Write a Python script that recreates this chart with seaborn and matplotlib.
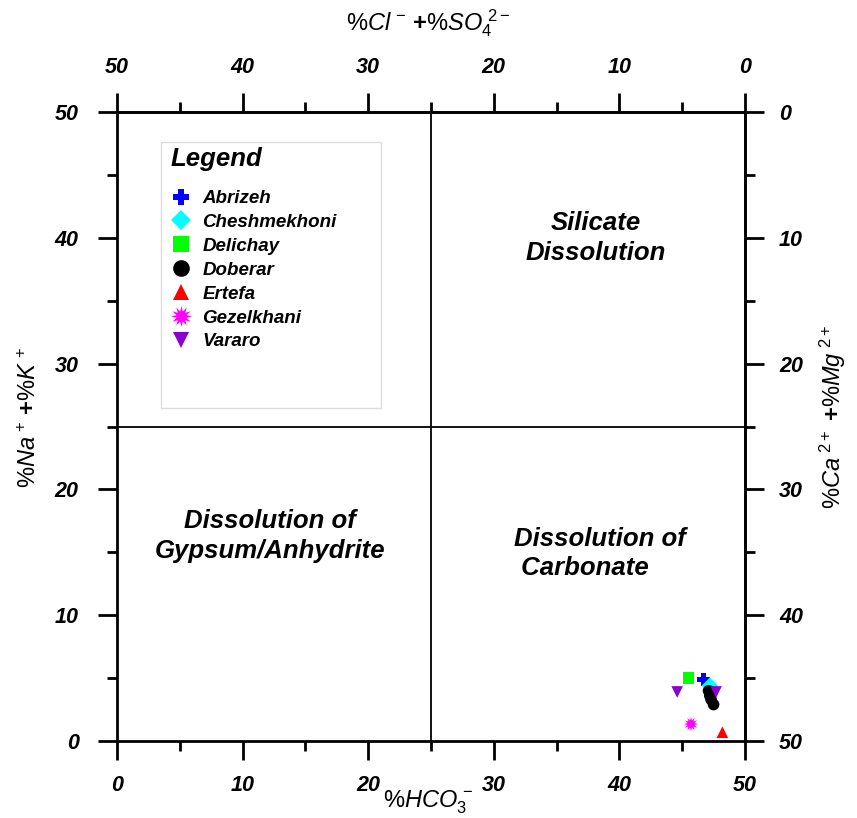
import numpy as np
import pandas as pd
import seaborn as sns
import matplotlib.pyplot as plt
from matplotlib.lines import Line2D
from matplotlib.patches import Rectangle
from matplotlib.ticker import MultipleLocator

# %HCO3 (x) and %Na+K (y) per sample
sites = ['Abrizeh', 'Cheshmekhoni', 'Delichay', 'Doberar', 'Doberar', 'Doberar',
         'Doberar', 'Ertefa', 'Gezelkhani', 'Vararo', 'Vararo']
hco3 = [46.7, 47.2, 45.5, 47.1, 47.2, 47.3, 47.5, 48.2, 45.7, 44.6, 47.7]
na_k = [4.9, 4.4, 5.0, 4.0, 3.6, 3.3, 2.9, 0.7, 1.35, 3.9, 3.9]

site_order = ['Abrizeh', 'Cheshmekhoni', 'Delichay', 'Doberar', 'Ertefa', 'Gezelkhani', 'Vararo']
site_colors = ['#0000FF', '#00FFFF', '#00FF00', '#000000', '#FF0000', '#FF00FF', '#8B00CC']
site_markers = ['P', 'D', 's', 'o', '^', (12, 1, 0), 'v']
tick_vals = [0, 10, 20, 30, 40, 50]

df = pd.DataFrame({'site': sites, 'hco3': hco3, 'na_k': na_k})

sns.set_style('white')
plt.rcParams['font.family'] = ['Liberation Sans', 'DejaVu Sans']
plt.rcParams['text.color'] = 'black'
plt.rcParams['axes.labelcolor'] = 'black'
plt.rcParams['xtick.color'] = 'black'
plt.rcParams['ytick.color'] = 'black'
plt.rcParams['mathtext.fontset'] = 'custom'
plt.rcParams['mathtext.rm'] = 'Liberation Sans'
plt.rcParams['mathtext.it'] = 'Liberation Sans:italic'
plt.rcParams['mathtext.bf'] = 'Liberation Sans:bold'

fig = plt.figure(figsize=(8.57, 8.18), dpi=100)
ax = fig.add_axes([0.1365, 0.0941, 0.7328, 0.769])

palette = dict(zip(site_order, site_colors))
markers = dict(zip(site_order, site_markers))
sizes = {'Gezelkhani': 110, 'Abrizeh': 90}
df['sz'] = [sizes.get(s, 70) for s in df['site']]
sns.scatterplot(data=df, x='hco3', y='na_k', hue='site', style='site',
                hue_order=site_order, style_order=site_order,
                palette=palette, markers=markers, size='sz', sizes=(70, 110),
                linewidth=0, legend=False, ax=ax, zorder=3)

ax.axvline(25, color='black', lw=1.3)
ax.axhline(25, color='black', lw=1.3)
ax.set_xlim(0, 50)
ax.set_ylim(0, 50)
ax.set_xlabel('')
ax.set_ylabel('')

tick_font = dict(fontsize=15.5, fontweight='bold', fontstyle='italic')
maj = dict(which='major', direction='out', length=13.5, width=2, pad=11)
mnr = dict(which='minor', direction='out', length=7, width=2)

ax.xaxis.set_minor_locator(MultipleLocator(5))
ax.yaxis.set_minor_locator(MultipleLocator(5))
ax.tick_params(bottom=True, left=True, **maj)
ax.tick_params(bottom=True, left=True, **mnr)
ax.tick_params(axis='y', which='major', pad=14)
ax.set_xticks(tick_vals)
ax.set_xticklabels([str(v) for v in tick_vals], **tick_font)
ax.set_yticks(tick_vals)
ax.set_yticklabels([str(v) for v in tick_vals], **tick_font)
for sp in ax.spines.values():
    sp.set_linewidth(2)
    sp.set_color('black')

top = ax.secondary_xaxis('top', functions=(lambda v: 50 - v, lambda v: 50 - v))
right = ax.secondary_yaxis('right', functions=(lambda v: 50 - v, lambda v: 50 - v))
for sec, axis in [(top, top.xaxis), (right, right.yaxis)]:
    axis.set_minor_locator(MultipleLocator(5))
    sec.tick_params(**maj)
    sec.tick_params(**mnr)
    for sp in sec.spines.values():
        sp.set_linewidth(2)
top.set_xticks(tick_vals)
top.set_xticklabels([str(v) for v in tick_vals], **tick_font)
right.set_yticks(tick_vals)
right.set_yticklabels([str(v) for v in tick_vals], **tick_font)

fig.text(0.5, 0.0195, r'$\mathit{\%HCO}_{\mathit{3}}^{\ \mathit{-}}$', fontsize=17,
         ha='center', va='center')
fig.text(0.5, 0.972, r'$\mathit{\%Cl}^{\ \mathit{-}}\ \mathbf{+}\mathit{\%SO}_{\mathit{4}}^{\ \mathit{2-}}$',
         fontsize=17, ha='center', va='center')
fig.text(0.034, 0.49, r'$\mathit{\%Na}^{\ \mathit{+}}\ \mathbf{+}\mathit{\%K}^{\ \mathit{+}}$',
         fontsize=17, ha='center', va='center', rotation=90)
fig.text(0.972, 0.49, r'$\mathit{\%Ca}^{\ \mathit{2+}}\ \mathbf{+}\mathit{\%Mg}^{\ \mathit{2+}}$',
         fontsize=17, ha='center', va='center', rotation=90)

region_font = dict(fontsize=18.5, fontweight='bold', fontstyle='italic')
ax.text(38.1, 40, 'Silicate\nDissolution', ha='center', va='center',
        linespacing=1.3, **region_font)
ax.text(12.2, 16.3, 'Dissolution of\nGypsum/Anhydrite', ha='center', va='center',
        linespacing=1.3, **region_font)
ax.text(31.6, 14.9, 'Dissolution of\n Carbonate', ha='left', va='center',
        linespacing=1.3, **region_font)

# legend box
ax.add_patch(Rectangle((0.070, 0.530), 0.350, 0.423, transform=ax.transAxes,
                       facecolor='white', edgecolor='#dddddd', lw=1, zorder=4))
msizes = {'D': 10, (12, 1, 0): 15}
handles = [Line2D([], [], ls='', marker=m, color=c, markersize=msizes.get(m, 12),
                  markeredgewidth=0)
           for m, c in zip(site_markers, site_colors)]
leg = ax.legend(handles, site_order, title='Legend', loc='upper left',
                bbox_to_anchor=(0.085, 0.945), frameon=False, alignment='left',
                prop=dict(size=13.5, weight='bold', style='italic'),
                handletextpad=0.6, labelspacing=0.36, handlelength=1.1,
                borderaxespad=0, borderpad=0)
leg.get_title().set_fontsize(18.5)
leg.get_title().set_fontweight('bold')
leg.get_title().set_fontstyle('italic')
leg._legend_box.sep = 14
leg.set_zorder(5)

fig.savefig('out.png', dpi=100)
